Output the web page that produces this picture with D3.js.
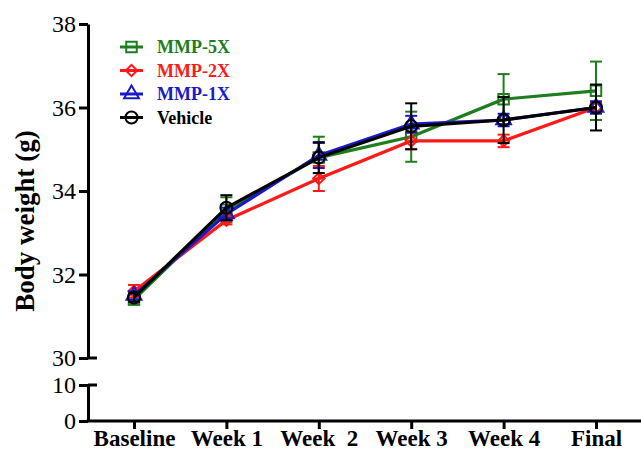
<!DOCTYPE html>
<html>
<head>
<meta charset="utf-8">
<script src="https://cdn.jsdelivr.net/npm/d3@7"></script>
<style>
  body { margin: 0; background: #fff; }
  text { font-family: "Liberation Serif", "Times New Roman", serif; }
</style>
</head>
<body>
<div class="chart"></div>
<script>
var svgWidth = 641;
var svgHeight = 453;

// data
var timepoints = ["Baseline", "Week 1", "Week  2", "Week 3", "Week 4", "Final"];
var seriesNames = ["MMP-5X", "MMP-2X", "MMP-1X", "Vehicle"];
var seriesColors = ["#1e7d1e", "#ff1a1a", "#1a1ac8", "#000000"];
var seriesSymbols = ["square", "diamond", "triangle", "circle"];

var mmp5x = [31.4, 33.55, 34.8, 35.3, 36.2, 36.4];
var mmp5xErr = [0.12, 0.3, 0.5, 0.6, 0.6, 0.7];
var mmp2x = [31.6, 33.3, 34.3, 35.2, 35.2, 36.0];
var mmp2xErr = [0.15, 0.1, 0.3, 0.2, 0.15, 0.1];
var mmp1x = [31.5, 33.45, 34.85, 35.6, 35.7, 36.0];
var mmp1xErr = [0.1, 0.15, 0.3, 0.2, 0.15, 0.15];
var vehicle = [31.45, 33.6, 34.8, 35.55, 35.7, 36.0];
var vehicleErr = [0.1, 0.3, 0.37, 0.55, 0.55, 0.55];

var upperTicks = [30, 32, 34, 36, 38];
var lowerTicks = [0, 10];

var allValues = [mmp5x, mmp2x, mmp1x, vehicle];
var allErrors = [mmp5xErr, mmp2xErr, mmp1xErr, vehicleErr];

var axisX = 88;
var axisBottomY = 421;

var svg = d3.select(".chart")
  .append("svg")
  .attr("width", svgWidth)
  .attr("height", svgHeight);

// scales (broken y axis: 0-10 below, 30-38 above)
var xScale = d3.scalePoint()
  .domain(timepoints)
  .range([134, 596]);

var yUpper = d3.scaleLinear()
  .domain([30, 38])
  .range([358, 24]);

var yLower = d3.scaleLinear()
  .domain([0, 10])
  .range([axisBottomY, 385]);

// upper y axis
var upperAxis = svg.append("g")
  .attr("transform", `translate(${axisX},0)`)
  .call(d3.axisLeft(yUpper).tickValues(upperTicks).tickSize(9).tickSizeOuter(0).tickPadding(3));

// lower y axis
var lowerAxis = svg.append("g")
  .attr("transform", `translate(${axisX},0)`)
  .call(d3.axisLeft(yLower).tickValues(lowerTicks).tickSize(9).tickSizeOuter(0).tickPadding(3));

[upperAxis, lowerAxis].forEach(function (g) {
  g.select(".domain").attr("stroke", "#000").attr("stroke-width", 3);
  g.selectAll(".tick line").attr("stroke", "#000").attr("stroke-width", 3);
  g.selectAll(".tick text")
    .attr("fill", "#000")
    .attr("font-size", "24px")
    .attr("font-family", "'Liberation Serif', 'Times New Roman', serif");
});

// break caps extend right of the axis
svg.append("line")
  .attr("x1", axisX).attr("x2", axisX + 9)
  .attr("y1", yUpper(30)).attr("y2", yUpper(30))
  .attr("stroke", "#000").attr("stroke-width", 3);
svg.append("line")
  .attr("x1", axisX).attr("x2", axisX + 9)
  .attr("y1", yLower(10)).attr("y2", yLower(10))
  .attr("stroke", "#000").attr("stroke-width", 3);

// x axis
var xAxis = svg.append("g")
  .attr("transform", `translate(0,${axisBottomY})`)
  .call(d3.axisBottom(xScale).tickSize(8).tickSizeOuter(0).tickPadding(1));

xAxis.select(".domain").remove();
xAxis.append("line")
  .attr("x1", axisX - 1.5).attr("x2", svgWidth)
  .attr("y1", 0).attr("y2", 0)
  .attr("stroke", "#000").attr("stroke-width", 3);
xAxis.selectAll(".tick line").attr("stroke", "#000").attr("stroke-width", 3);
xAxis.selectAll(".tick text")
  .attr("fill", "#000")
  .attr("font-size", "23px")
  .attr("font-weight", "bold")
  .attr("font-family", "'Liberation Serif', 'Times New Roman', serif")
  .style("white-space", "pre");

// y axis title
svg.append("text")
  .attr("transform", `translate(34, 221) rotate(-90)`)
  .attr("text-anchor", "middle")
  .attr("font-size", "27px")
  .attr("font-weight", "bold")
  .attr("fill", "#000")
  .text("Body weight (g)");

function symbolPath(kind) {
  if (kind == "square") return d3.symbol().type(d3.symbolSquare).size(110)();
  if (kind == "diamond") return d3.symbol().type(d3.symbolSquare).size(64)();
  if (kind == "triangle") return d3.symbol().type(d3.symbolTriangle).size(95)();
  return d3.symbol().type(d3.symbolCircle).size(115)();
}

var line = d3.line()
  .x((d, i) => xScale(timepoints[i]))
  .y(d => yUpper(d));

var plot = svg.append("g");

seriesNames.forEach(function (name, s) {
  var color = seriesColors[s];
  var values = allValues[s];
  var errs = allErrors[s];
  var g = plot.append("g").attr("class", "series");

  // error bars
  var bars = g.selectAll(".err")
    .data(values)
    .enter().append("g")
    .attr("class", "err")
    .attr("stroke", color)
    .attr("stroke-width", 2);

  bars.append("line")
    .attr("x1", (d, i) => xScale(timepoints[i]))
    .attr("x2", (d, i) => xScale(timepoints[i]))
    .attr("y1", (d, i) => yUpper(d + errs[i]))
    .attr("y2", (d, i) => yUpper(d - errs[i]));
  bars.append("line")
    .attr("x1", (d, i) => xScale(timepoints[i]) - 6)
    .attr("x2", (d, i) => xScale(timepoints[i]) + 6)
    .attr("y1", (d, i) => yUpper(d + errs[i]))
    .attr("y2", (d, i) => yUpper(d + errs[i]));
  bars.append("line")
    .attr("x1", (d, i) => xScale(timepoints[i]) - 6)
    .attr("x2", (d, i) => xScale(timepoints[i]) + 6)
    .attr("y1", (d, i) => yUpper(d - errs[i]))
    .attr("y2", (d, i) => yUpper(d - errs[i]));

  // line
  g.append("path")
    .datum(values)
    .attr("d", line)
    .attr("fill", "none")
    .attr("stroke", color)
    .attr("stroke-width", 3.2);

  // markers
  g.selectAll(".marker")
    .data(values)
    .enter().append("path")
    .attr("class", "marker")
    .attr("d", symbolPath(seriesSymbols[s]))
    .attr("transform", (d, i) => `translate(${xScale(timepoints[i])},${yUpper(d)})` +
      (seriesSymbols[s] == "diamond" ? " rotate(45)" : ""))
    .attr("fill", "none")
    .attr("stroke", color)
    .attr("stroke-width", 2);
});

// legend
var legend = svg.append("g").attr("transform", "translate(120, 47)");

seriesNames.forEach(function (name, s) {
  var row = legend.append("g").attr("transform", `translate(0, ${s * 23.5})`);
  row.append("line")
    .attr("x1", 0).attr("x2", 23)
    .attr("y1", 0).attr("y2", 0)
    .attr("stroke", seriesColors[s])
    .attr("stroke-width", 3);
  row.append("path")
    .attr("d", symbolPath(seriesSymbols[s]))
    .attr("transform", "translate(11.5,0)" + (seriesSymbols[s] == "diamond" ? " rotate(45)" : ""))
    .attr("fill", "none")
    .attr("stroke", seriesColors[s])
    .attr("stroke-width", 2);
  row.append("text")
    .attr("x", 37)
    .attr("y", 6)
    .attr("font-size", "18px")
    .attr("font-weight", "bold")
    .attr("fill", seriesColors[s])
    .text(name);
});
</script>
</body>
</html>
